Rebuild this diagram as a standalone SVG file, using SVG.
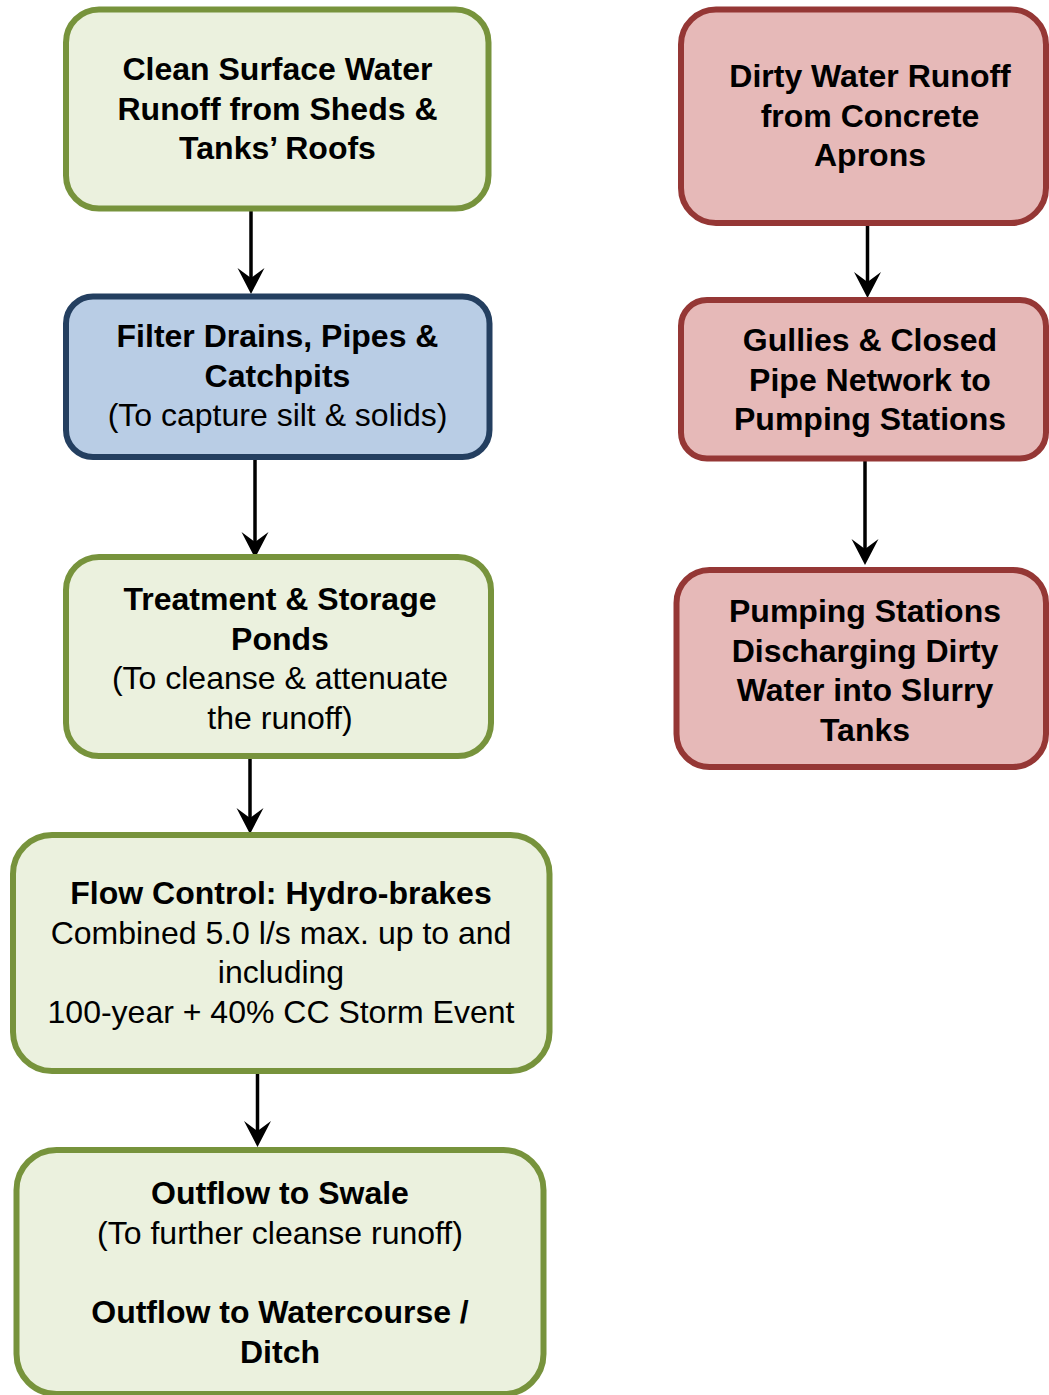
<svg xmlns="http://www.w3.org/2000/svg" width="1049" height="1395" viewBox="0 0 1049 1395">
<style>
  .g { fill: #EBF1DE; stroke: #77933C; stroke-width: 6; }
  .b { fill: #B9CDE5; stroke: #243F60; stroke-width: 6; }
  .r { fill: #E6B9B8; stroke: #953735; stroke-width: 6; }
  text { font-family: "Liberation Sans", Arial, sans-serif; font-size: 32px; fill: #000; text-anchor: middle; }
  .t { font-weight: bold; }
  .conn { stroke: #000; stroke-width: 3.5; fill: none; marker-end: url(#ah); }
</style>
<defs>
  <marker id="ah" markerUnits="userSpaceOnUse" viewBox="0 -14 27 28" markerWidth="27" markerHeight="28" refX="12" refY="0" orient="auto">
    <path d="M0,-13.5 L26,0 L0,13.5 L10,0 Z" fill="#000"/>
  </marker>
</defs>
<rect width="1049" height="1395" fill="#fff"/>

<g id="connectors">
  <line class="conn" x1="251" y1="211" x2="251" y2="280"/>
  <line class="conn" x1="255" y1="460" x2="255" y2="544"/>
  <line class="conn" x1="250" y1="759" x2="250" y2="820"/>
  <line class="conn" x1="257.5" y1="1073" x2="257.5" y2="1133"/>
  <line class="conn" x1="867.5" y1="226" x2="867.5" y2="284"/>
  <line class="conn" x1="865" y1="461" x2="865" y2="551"/>
</g>

<g id="node-clean">
  <rect class="g" x="66" y="9.5" width="422.5" height="199" rx="33" ry="33"/>
  <text class="t" x="277.5" y="80">Clean Surface Water</text>
  <text class="t" x="277.5" y="119.5">Runoff from Sheds &amp;</text>
  <text class="t" x="277.5" y="159">Tanks’ Roofs</text>
</g>

<g id="node-filter">
  <rect class="b" x="66" y="296.5" width="423.5" height="160.5" rx="27" ry="27"/>
  <text class="t" x="277.5" y="347">Filter Drains, Pipes &amp;</text>
  <text class="t" x="277.5" y="386.5">Catchpits</text>
  <text x="277.5" y="426">(To capture silt &amp; solids)</text>
</g>

<g id="node-ponds">
  <rect class="g" x="66" y="557" width="425" height="199" rx="33" ry="33"/>
  <text class="t" x="280" y="610">Treatment &amp; Storage</text>
  <text class="t" x="280" y="649.5">Ponds</text>
  <text x="280" y="689">(To cleanse &amp; attenuate</text>
  <text x="280" y="728.5">the runoff)</text>
</g>

<g id="node-flow">
  <rect class="g" x="13" y="835" width="536.5" height="236" rx="39" ry="39"/>
  <text class="t" x="281" y="904">Flow Control: Hydro-brakes</text>
  <text x="281" y="944">Combined 5.0 l/s max. up to and</text>
  <text x="281" y="983">including</text>
  <text x="281" y="1023">100-year + 40% CC Storm Event</text>
</g>

<g id="node-outflow">
  <rect class="g" x="16.5" y="1150" width="527" height="244" rx="40" ry="40"/>
  <text class="t" x="280" y="1204">Outflow to Swale</text>
  <text x="280" y="1244">(To further cleanse runoff)</text>
  <text class="t" x="280" y="1323">Outflow to Watercourse /</text>
  <text class="t" x="280" y="1363">Ditch</text>
</g>

<g id="node-dirty">
  <rect class="r" x="681" y="9.5" width="365" height="213.5" rx="35" ry="35"/>
  <text class="t" x="870" y="87">Dirty Water Runoff</text>
  <text class="t" x="870" y="126.5">from Concrete</text>
  <text class="t" x="870" y="166">Aprons</text>
</g>

<g id="node-gullies">
  <rect class="r" x="681" y="300" width="365" height="158.5" rx="26" ry="26"/>
  <text class="t" x="870" y="351">Gullies &amp; Closed</text>
  <text class="t" x="870" y="390.5">Pipe Network to</text>
  <text class="t" x="870" y="430">Pumping Stations</text>
</g>

<g id="node-pumping">
  <rect class="r" x="676.5" y="570" width="369.5" height="197" rx="33" ry="33"/>
  <text class="t" x="865" y="622">Pumping Stations</text>
  <text class="t" x="865" y="661.5">Discharging Dirty</text>
  <text class="t" x="865" y="701">Water into Slurry</text>
  <text class="t" x="865" y="740.5">Tanks</text>
</g>
</svg>
